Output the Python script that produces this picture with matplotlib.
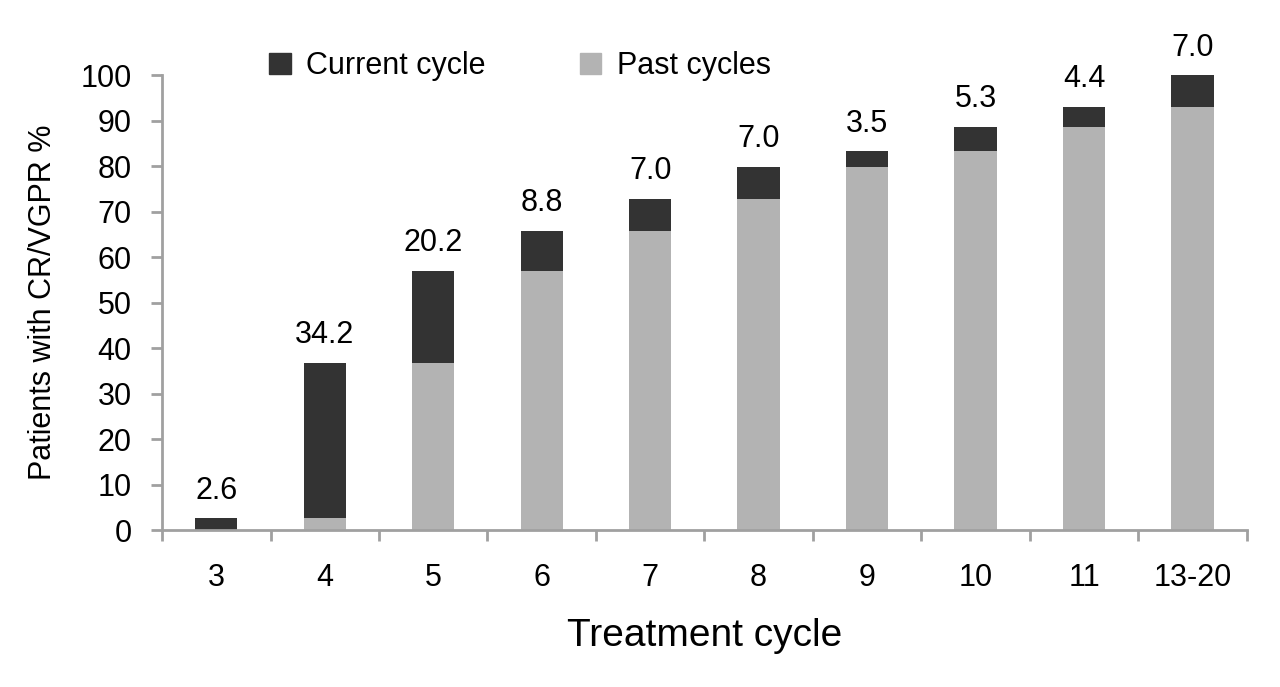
import numpy as np
import matplotlib.pyplot as plt
from matplotlib.patches import Patch

plt.rcParams['font.family'] = ['Liberation Sans Narrow', 'Liberation Sans', 'DejaVu Sans']

cycles = ['3', '4', '5', '6', '7', '8', '9', '10', '11', '13-20']
current = [2.6, 34.2, 20.2, 8.8, 7.0, 7.0, 3.5, 5.3, 4.4, 7.0]
past = [0.0, 2.6, 36.8, 57.0, 65.8, 72.8, 79.8, 83.3, 88.6, 93.0]

dark = '#333333'
light = '#b3b3b3'
axis_col = '#a0a0a0'

fig = plt.figure(figsize=(12.8, 6.87), dpi=100)
ax = fig.add_axes([0.1266, 0.2285, 0.8474, 0.6623])

x = np.arange(len(cycles))
w = 0.39
ax.bar(x, past, w, color=light, zorder=2)
ax.bar(x, current, w, bottom=past, color=dark, zorder=2)

for xi, p, c in zip(x, past, current):
    ax.annotate(f'{c:.1f}', (xi, p + c), xytext=(0, 9), textcoords='offset points',
                ha='center', va='bottom', fontsize=22)

ax.set_xlim(-0.5, len(cycles) - 0.5)
ax.set_ylim(0, 100)
ax.set_yticks(range(0, 101, 10))
ax.set_xticks(x)
ax.set_xticklabels(cycles)
ax.set_xticks(np.arange(-0.5, len(cycles), 1), minor=True)
ax.tick_params(axis='x', which='major', length=0, pad=24, labelsize=22)
ax.tick_params(axis='x', which='minor', length=8, width=2, color=axis_col, direction='out')
ax.tick_params(axis='y', length=8, width=2, color=axis_col, labelsize=22, pad=14)

for s in ['top', 'right']:
    ax.spines[s].set_visible(False)
for s in ['left', 'bottom']:
    ax.spines[s].set_color(axis_col)
    ax.spines[s].set_linewidth(2)

ax.set_xlabel('Treatment cycle', fontsize=28, labelpad=18)
ax.set_ylabel('Patients with CR/VGPR %', fontsize=22, labelpad=16)

handles = [Patch(color=dark, label='Current cycle'), Patch(color=light, label='Past cycles')]
ax.legend(handles=handles, loc='center', bbox_to_anchor=(0.33, 1.02), ncol=2,
          frameon=False, fontsize=22, handlelength=0.7, handleheight=0.7,
          columnspacing=3.1, handletextpad=0.5)

fig.savefig('out.png', dpi=100)
